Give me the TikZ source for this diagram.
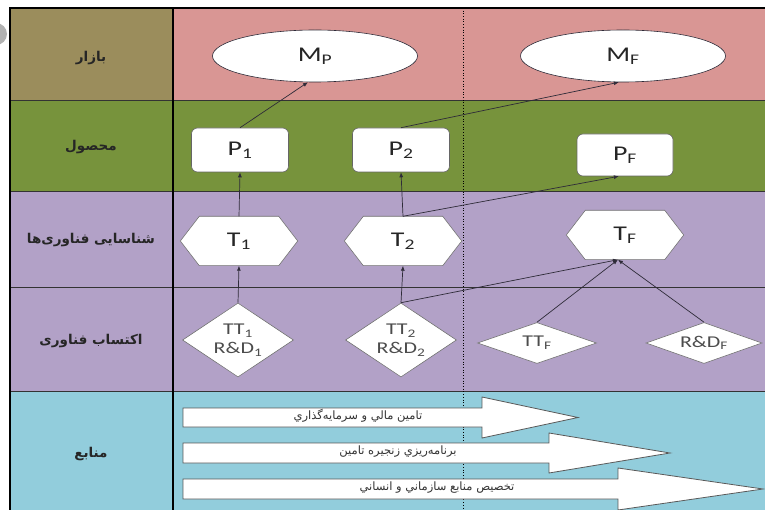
\documentclass[tikz,border=0pt]{standalone}
\usepackage{fontspec}
\setmainfont{Carlito}[FakeStretch=1.33]
\newfontfamily\fa[Script=Arabic]{DejaVu Sans}
\TeXXeTstate=1
\usetikzlibrary{shapes.geometric,arrows.meta,calc}
\pgfdeclarelayer{back}
\pgfdeclarelayer{mid}
\pgfsetlayers{back,mid,main}
\definecolor{mkL}{HTML}{9B8D5C}
\definecolor{mkR}{HTML}{D99694}
\definecolor{prodC}{HTML}{77933C}
\definecolor{techC}{HTML}{B2A1C7}
\definecolor{resC}{HTML}{92CDDC}
\definecolor{lineC}{HTML}{2E2B38}
\definecolor{txtC}{HTML}{262626}
\begin{document}
\begin{tikzpicture}[x=1pt,y=-1pt,
  ell/.style={ellipse,draw=lineC,line width=0.6pt,fill=white,minimum width=205pt,minimum height=52pt,inner sep=0pt,text=txtC,font=\fontsize{21}{23}\selectfont},
  prodbox/.style={rectangle,rounded corners=6pt,draw=black!60,line width=0.6pt,fill=white,minimum width=97pt,minimum height=44pt,inner sep=0pt,text=txtC,font=\fontsize{21}{23}\selectfont},
  hexbox/.style={rectangle,draw=none,minimum width=117pt,minimum height=49pt,inner sep=0pt,text=txtC,font=\fontsize{21}{23}\selectfont},
  hexline/.style={draw=black!55,line width=0.6pt,fill=white},
  dia/.style={diamond,draw=black!55,line width=0.6pt,fill=white,inner sep=0pt,text=black!70,font=\fontsize{16.5}{19}\selectfont,align=center},
  conn/.style={draw=lineC,line width=0.7pt,-{Latex[length=5pt,width=4pt]}},
  blockarr/.style={draw=black!65,line width=0.8pt,fill=white},
  rowlab/.style={text=txtC,font=\fa\bfseries\fontsize{13.5}{15}\selectfont},
  arrtxt/.style={text=black!80,font=\fa\fontsize{11.5}{13}\selectfont},
  grid/.style={draw=black!80,line width=0.6pt}
]
\useasboundingbox (0,0) rectangle (765,510);
\begin{pgfonlayer}{back}
  \fill[white] (0,0) rectangle (765,510);
  \fill[black!30] (-4,34) circle (11pt);
  \fill[mkL] (10,8) rectangle (173,100);
  \fill[mkR] (173,8) rectangle (765,100);
  \fill[prodC] (10,100) rectangle (765,191);
  \fill[techC] (10,191) rectangle (765,391);
  \fill[resC] (10,391) rectangle (765,510);
  \draw[grid] (10,100) -- (765,100);
  \draw[grid] (10,191) -- (765,191);
  \draw[grid] (10,287) -- (765,287);
  \draw[grid] (10,391) -- (765,391);
  \draw[black,line width=1.6pt] (9,8) -- (765,8);
  \draw[black,line width=2pt] (10,8) -- (10,510);
  \draw[black,line width=1.4pt] (173,8) -- (173,510);
  \draw[black,line width=0.7pt,dotted] (463,8) -- (463,510);
\end{pgfonlayer}

% row labels
\node[rowlab] (l1) at (91,58) {\beginR بازار\endR};
\node[rowlab] (l2) at (91,147) {\beginR محصول\endR};
\node[rowlab] (l3) at (91,240) {\beginR شناسایی فناوری‌ها\endR};
\node[rowlab] (l4) at (91,341) {\beginR اکتساب فناوری\endR};
\node[rowlab] (l5) at (91,454) {\beginR منابع\endR};

% market
\node[ell] (mp) at (315,56) {M\textsubscript{P}};
\node[ell] (mf) at (623,56) {M\textsubscript{F}};

% products
\node[prodbox] (p1) at (240,150) {P\textsubscript{1}};
\node[prodbox] (p2) at (401,150) {P\textsubscript{2}};
\node[prodbox,minimum width=96pt,minimum height=42pt] (pf) at (625,155) {P\textsubscript{F}};

% technologies
\node[hexbox] (t1) at (239,241) {T\textsubscript{1}};
\node[hexbox] (t2) at (403,241) {T\textsubscript{2}};
\node[hexbox] (tf) at (625,235) {T\textsubscript{F}};
\begin{pgfonlayer}{mid}
  \foreach \n in {t1,t2,tf}{
    \draw[hexline] (\n.west) -- ($(\n.north west)+(19,0)$) -- ($(\n.north east)+(-19,0)$) -- (\n.east) -- ($(\n.south east)+(-19,0)$) -- ($(\n.south west)+(19,0)$) -- cycle;
  }
\end{pgfonlayer}

% acquisition
\node[dia,aspect=1.5,minimum width=111pt,minimum height=74pt] (tt1) at (238,340) {TT\textsubscript{1}\\R\&D\textsubscript{1}};
\node[dia,aspect=1.5,minimum width=111pt,minimum height=74pt] (tt2) at (401,340) {TT\textsubscript{2}\\R\&D\textsubscript{2}};
\node[dia,aspect=2.9,minimum width=119pt,minimum height=41pt] (ttf) at (537,343) {TT\textsubscript{F}};
\node[dia,aspect=2.9,minimum width=116pt,minimum height=41pt] (rdf) at (704,343) {R\&D\textsubscript{F}};

% connectors
\draw[conn] (p1.north) -- (mp.255);
\draw[conn] (p2.north) -- (mf.261);
\draw[conn] (t1.north) -- (p1.south);
\draw[conn] (t2.north) -- (p2.south);
\draw[conn] (t2.north) -- (pf.254);
\draw[conn] (tt1.north) -- (t1.south);
\draw[conn] (tt2.north) -- (t2.south);
\draw[conn] (tt2.north) -- (tf.254);
\draw[conn] (ttf.north) -- (tf.254);
\draw[conn] (rdf.north) -- (tf.254);

% resource block arrows
\draw[blockarr] (183,408) -- (482,408) -- (482,397) -- (578,417.5) -- (482,438) -- (482,427) -- (183,427) -- cycle;
\draw[blockarr] (183,443) -- (549,443) -- (549,433) -- (670,453) -- (549,473) -- (549,463) -- (183,463) -- cycle;
\draw[blockarr] (183,479) -- (618,479) -- (618,468) -- (763,489) -- (618,510) -- (618,499) -- (183,499) -- cycle;
\node[arrtxt] (r1) at (358,416) {\beginR تامين مالي و سرمايه‌گذاري\endR};
\node[arrtxt] (r2) at (398,452) {\beginR برنامه‌ريزي زنجيره تامين\endR};
\node[arrtxt] (r3) at (437,488) {\beginR تخصيص منابع سازماني و انساني\endR};
\end{tikzpicture}
\end{document}
